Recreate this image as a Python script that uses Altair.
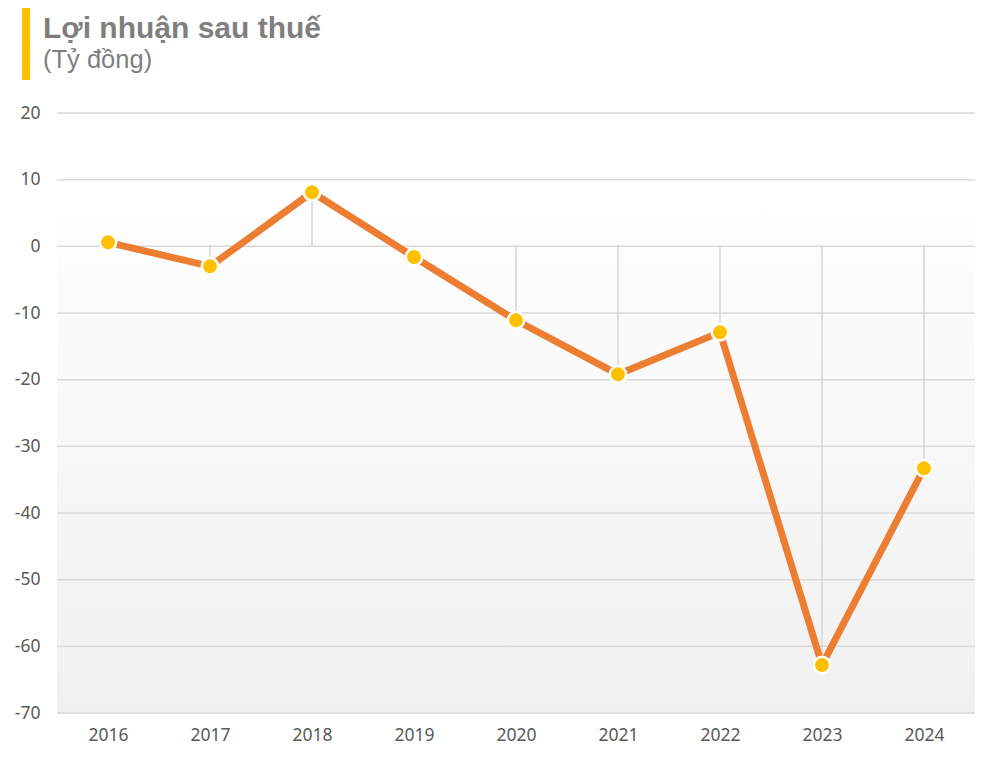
import altair as alt
import pandas as pd

years = ["2016", "2017", "2018", "2019", "2020", "2021", "2022", "2023", "2024"]
values = [0.6, -3.0, 8.1, -1.6, -11.1, -19.2, -12.9, -62.8, -33.3]
y_ticks = [20, 10, 0, -10, -20, -30, -40, -50, -60, -70]
title_text = "Lợi nhuận sau thuế"
subtitle_text = "(Tỷ đồng)"

W, H = 918, 600
df = pd.DataFrame({"year": years, "value": values, "zero": [0] * len(years)})
ticks_df = pd.DataFrame({"t": y_ticks})
one = pd.DataFrame({"a": [0]})

xs = alt.Scale(type="point", padding=0.5, domain=years)
ys = alt.Scale(domain=[-70, 20], nice=False, zero=False)
FONT = "Noto Sans"

bg = alt.Chart(one).mark_rect(
    fill=alt.Gradient(gradient="linear", x1=0, x2=0, y1=0, y2=1,
                      stops=[alt.GradientStop(offset=0, color="#ffffff"),
                             alt.GradientStop(offset=0.1, color="#ffffff"),
                             alt.GradientStop(offset=1, color="#f0f0f0")])
).encode(x=alt.value(0), x2=alt.value(W), y=alt.value(0), y2=alt.value(H))

grid = alt.Chart(ticks_df).mark_rule(color="#d9d9d9", strokeWidth=1.5).encode(
    y=alt.Y("t:Q", scale=ys, axis=alt.Axis(values=y_ticks, grid=False, domain=False, ticks=False,
                                            labelPadding=17, labelFontSize=17.5, labelColor="#595959",
                                            labelFont=FONT, title=None,
                                            labelExpr="'' + datum.value")),
    x=alt.value(0), x2=alt.value(W)
)

drops = alt.Chart(df).mark_rule(color="#d0d0d0", strokeWidth=1.3).encode(
    x=alt.X("year:O", scale=xs, axis=alt.Axis(labelAngle=0, domain=False, ticks=False, grid=False,
                                              labelPadding=13, labelFontSize=17.5, labelColor="#595959",
                                              labelFont=FONT, title=None)),
    y=alt.Y("zero:Q", scale=ys),
    y2="value:Q"
)

line = alt.Chart(df).mark_line(color="#ED7D31", strokeWidth=7).encode(
    x=alt.X("year:O", scale=xs), y=alt.Y("value:Q", scale=ys)
)

pts = alt.Chart(df).mark_point(filled=True, fill="#FFC000", stroke="#ffffff", strokeWidth=2.5,
                               size=270, opacity=1).encode(
    x=alt.X("year:O", scale=xs), y=alt.Y("value:Q", scale=ys)
)

bar = alt.Chart(one).mark_rect(color="#FFC000").encode(
    x=alt.value(-35), x2=alt.value(-27), y=alt.value(-108), y2=alt.value(-33)
)

t1 = alt.Chart(one).mark_text(text=title_text, align="left", baseline="alphabetic",
                              font="Liberation Sans", fontSize=30, fontWeight="bold",
                              color="#7f7f7f").encode(x=alt.value(-14), y=alt.value(-75))
t2 = alt.Chart(one).mark_text(text=subtitle_text, align="left", baseline="alphabetic",
                              font="Liberation Sans", fontSize=25.5,
                              color="#7f7f7f").encode(x=alt.value(-14), y=alt.value(-45))

chart = alt.layer(bg, grid, drops, line, pts, bar, t1, t2).properties(
    width=W, height=H,
    autosize=alt.AutoSizeParams(type="none"),
    padding={"left": 49, "top": 105, "right": 16, "bottom": 40}
).configure_view(stroke=None)

chart.save("out.html", embed_options={"renderer": "svg", "actions": False})
